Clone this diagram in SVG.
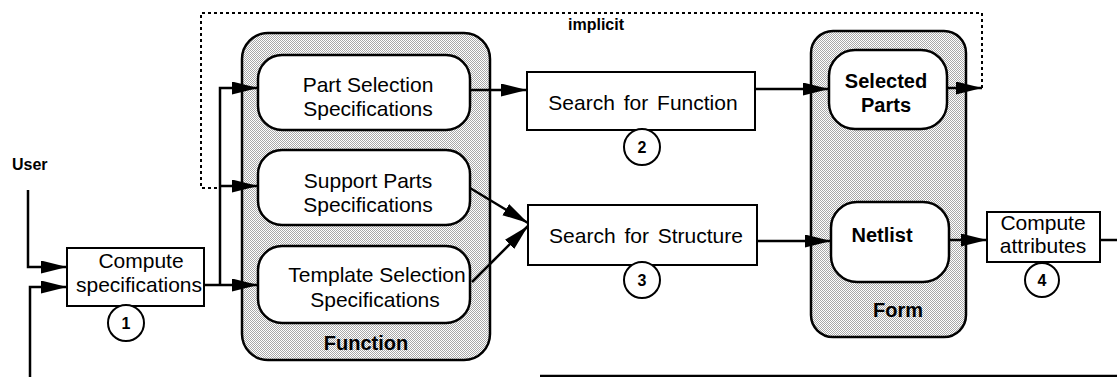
<svg xmlns="http://www.w3.org/2000/svg" width="1117" height="377" viewBox="0 0 1117 377">
  <defs>
    <!-- fine stipple used for the grouping containers -->
    <pattern id="stipple" width="2" height="2" patternUnits="userSpaceOnUse">
      <rect width="2" height="2" fill="#ffffff"/>
      <rect x="0" y="0" width="1" height="1" fill="#a8a8a8"/>
      <rect x="1" y="1" width="1" height="1" fill="#a8a8a8"/>
    </pattern>
    <marker id="arrow" markerUnits="userSpaceOnUse" markerWidth="28" markerHeight="14" refX="26" refY="6.5" orient="auto">
      <path d="M0,0 L26,6.5 L0,13 z" fill="#000"/>
    </marker>
  </defs>
  <style>
    text { font-family: "Liberation Sans", Arial, sans-serif; fill: #000; }
    .lbl { font-size: 21px; text-anchor: middle; }
    .bold { font-size: 20px; font-weight: bold; text-anchor: middle; }
    .num { font-size: 16px; font-weight: bold; text-anchor: middle; }
    .container { fill: url(#stipple); stroke: #000; stroke-width: 2.5; }
    .store { fill: #fff; stroke: #000; stroke-width: 2.5; }
    .proc { fill: #fff; stroke: #000; stroke-width: 2; }
    .circ { fill: #fff; stroke: #000; stroke-width: 2; }
    .wire { fill: none; stroke: #000; stroke-width: 2.5; }
    .dotted { fill: none; stroke: #000; stroke-width: 2; stroke-dasharray: 3 3; }
  </style>

  <rect width="1117" height="377" fill="#ffffff"/>

  <!-- Function grouping -->
  <g id="function-group">
    <rect class="container" x="242" y="33" width="248" height="327" rx="26"/>
    <text class="bold" x="366" y="350">Function</text>
  </g>

  <g id="part-selection-specs">
    <rect class="store" x="258" y="55" width="212" height="75" rx="24"/>
    <text class="lbl" x="368" y="92">Part Selection</text>
    <text class="lbl" x="368" y="116">Specifications</text>
  </g>

  <g id="support-parts-specs">
    <rect class="store" x="258" y="150" width="212" height="75" rx="24"/>
    <text class="lbl" x="368" y="188">Support Parts</text>
    <text class="lbl" x="368" y="212">Specifications</text>
  </g>

  <g id="template-selection-specs">
    <rect class="store" x="258" y="246" width="212" height="77" rx="24"/>
    <text class="lbl" x="377" y="282">Template Selection</text>
    <text class="lbl" x="375" y="307">Specifications</text>
  </g>

  <!-- Form grouping -->
  <g id="form-group">
    <rect class="container" x="811" y="31" width="155" height="306" rx="22"/>
    <text class="bold" x="898" y="317">Form</text>
  </g>

  <g id="selected-parts">
    <rect class="store" x="829" y="50" width="118" height="79" rx="26"/>
    <text class="bold" x="886" y="88">Selected</text>
    <text class="bold" x="886" y="112">Parts</text>
  </g>

  <g id="netlist">
    <rect class="store" x="831" y="202" width="118" height="80" rx="26"/>
    <text class="bold" x="882" y="242">Netlist</text>
  </g>

  <!-- processes -->
  <g id="compute-specifications">
    <rect class="proc" x="67" y="248" width="137" height="58"/>
    <text class="lbl" x="141" y="268">Compute</text>
    <text class="lbl" x="139" y="292">specifications</text>
    <circle class="circ" cx="126" cy="323" r="18"/>
    <text class="num" x="126" y="329">1</text>
  </g>

  <g id="search-for-function">
    <rect class="proc" x="527" y="72" width="228" height="58"/>
    <text class="lbl" x="643" y="110" word-spacing="3">Search for Function</text>
    <circle class="circ" cx="642" cy="147" r="18"/>
    <text class="num" x="642" y="153">2</text>
  </g>

  <g id="search-for-structure">
    <rect class="proc" x="528" y="205" width="229" height="60"/>
    <text class="lbl" x="646" y="243" word-spacing="3">Search for Structure</text>
    <circle class="circ" cx="642" cy="280" r="18"/>
    <text class="num" x="642" y="286">3</text>
  </g>

  <g id="compute-attributes">
    <rect class="proc" x="987" y="212" width="113" height="50"/>
    <text class="lbl" x="1043" y="230">Compute</text>
    <text class="lbl" x="1043" y="253">attributes</text>
    <circle class="circ" cx="1042" cy="280" r="17"/>
    <text class="num" x="1042" y="286">4</text>
  </g>

  <g id="user">
    <text x="12" y="170" font-size="16" font-weight="bold">User</text>
  </g>

  <g id="implicit-label">
    <text x="596" y="30" font-size="16" font-weight="bold" text-anchor="middle">implicit</text>
  </g>

  <!-- connectors -->
  <g id="connectors">
    <path class="wire" d="M28,190 V267 H67" marker-end="url(#arrow)"/>
    <path class="wire" d="M30,377 V287 H67" marker-end="url(#arrow)"/>
    <path class="wire" d="M204,285 H258" marker-end="url(#arrow)"/>
    <path class="wire" d="M220,285 V88 H258" marker-end="url(#arrow)"/>
    <path class="wire" d="M220,186 H258" marker-end="url(#arrow)"/>
    <path class="wire" d="M470,90 H527" marker-end="url(#arrow)"/>
    <path class="wire" d="M755,89 H829" marker-end="url(#arrow)"/>
    <path class="wire" d="M947,88 H982" marker-end="url(#arrow)"/>
    <path class="dotted" d="M982,88 V13 H201 V188 H220"/>
    <path class="wire" d="M470,188 L528,223" marker-end="url(#arrow)"/>
    <path class="wire" d="M472,282 L528,226" marker-end="url(#arrow)"/>
    <path class="wire" d="M757,241 H831" marker-end="url(#arrow)"/>
    <path class="wire" d="M949,240 H987" marker-end="url(#arrow)"/>
    <path class="wire" d="M1100,240 H1117"/>
    <path class="wire" d="M540,376 H1117" stroke-width="3"/>
  </g>
</svg>
